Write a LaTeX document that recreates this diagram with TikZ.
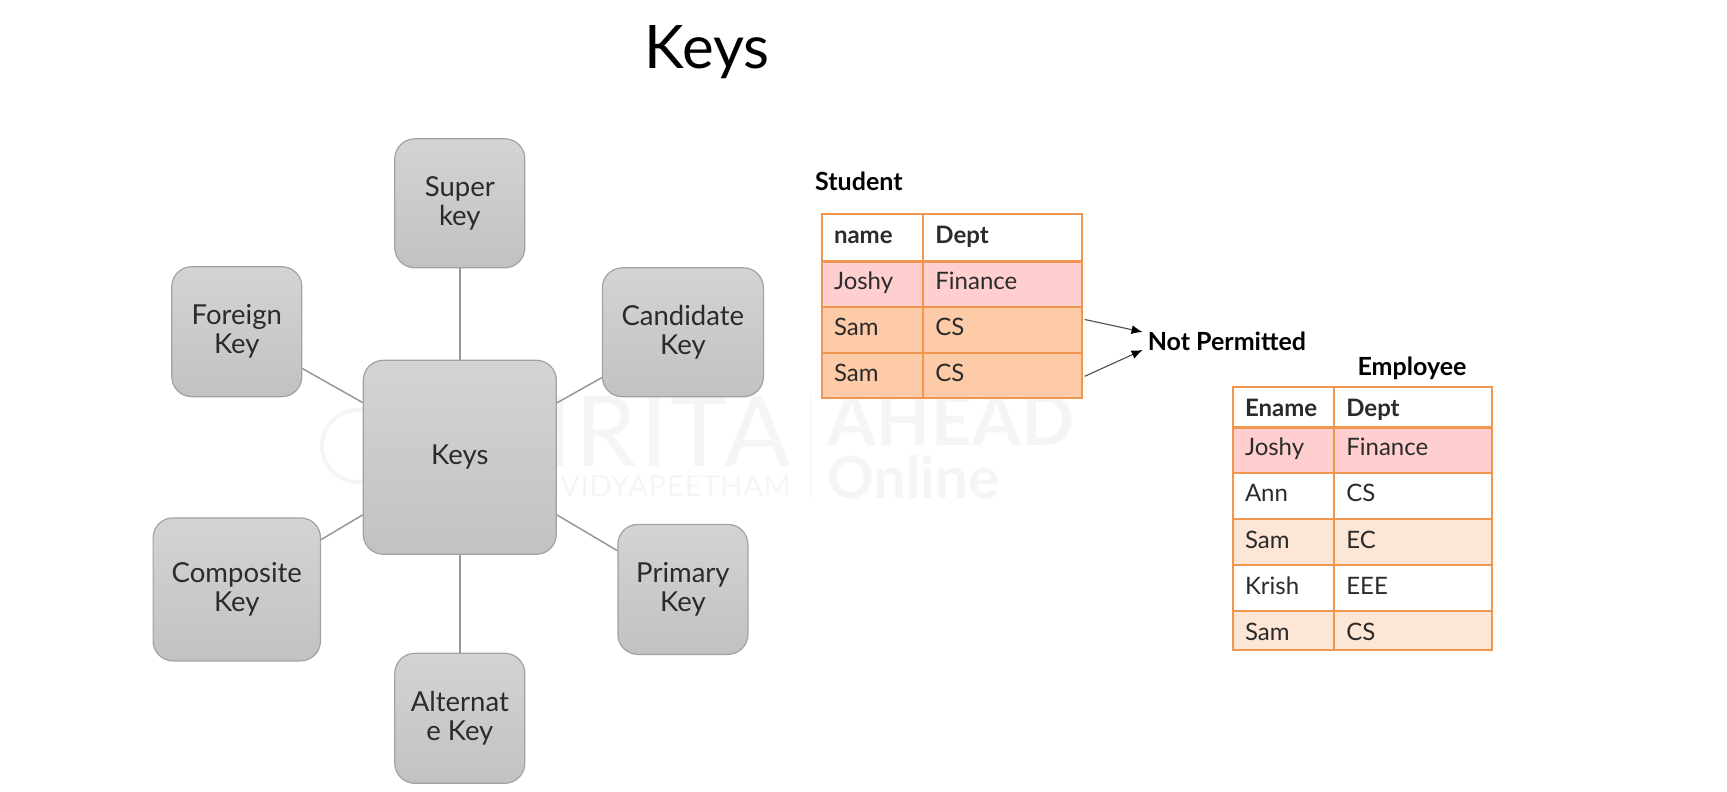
\documentclass[tikz,border=0pt]{standalone}
\usepackage{fontspec}
\setmainfont{Lato}
\usepackage{xcolor}
\usetikzlibrary{positioning,calc}
\usetikzlibrary{arrows.meta}
\definecolor{inkgray}{HTML}{2B2B2B}
\definecolor{boxline}{HTML}{A2A2A2}
\definecolor{linkgray}{HTML}{979797}
\definecolor{tableline}{HTML}{F0964F}
\definecolor{rowred}{HTML}{FFCFCF}
\definecolor{rowpeach}{HTML}{FDCBA8}
\definecolor{rowlight}{HTML}{FDE6D6}
\definecolor{markgray}{HTML}{F5F5F5}
\tikzset{
  keybox/.style={rectangle,draw=boxline,line width=1.2pt,rounded corners=20pt,top color=black!17,bottom color=black!24,
    text=inkgray,align=center,inner sep=0pt,font=\fontsize{27.5}{29}\selectfont},
  cell/.style={rectangle,draw=tableline,line width=2pt,anchor=north west,inner xsep=12pt,inner ysep=0pt,align=left,
    text=inkgray,text height=29pt,font=\fontsize{24}{28}\selectfont},
  caption/.style={text=black,inner sep=0pt,font=\fontsize{25}{28}\selectfont\bfseries},
  watermark/.style={text=markgray,inner sep=0pt,text depth=0pt},
  link/.style={draw=linkgray,line width=1.5pt},
  notearrow/.style={draw=black!70,line width=1.1pt,-{Latex[black,length=11pt,width=9pt]}}
}
\begin{document}
\begin{tikzpicture}[x=1pt,y=-1pt]
    \useasboundingbox (0,0) rectangle (1727,792);
    % faint mark behind the diagram
    \draw[markgray,line width=4pt] (358,446) circle (36);
    \node[watermark,anchor=base east,font=\fontsize{98}{98}\selectfont\addfontfeature{LetterSpace=3}] (amrita) at (791,466) {AMRITA};
    \node[watermark,anchor=base east,font=\fontsize{29}{30}\selectfont\addfontfeature{LetterSpace=3}] (vidya) at (791,496) {VIDYAPEETHAM};
    \draw[markgray,line width=1.5pt] (810.6,394) -- (810.6,501);
    \node[watermark,anchor=base west,font=\fontsize{70}{70}\selectfont\bfseries\addfontfeature{LetterSpace=1}] (ahead) at (827,445) {AHEAD};
    \node[watermark,anchor=base west,font=\fontsize{58}{58}\selectfont\bfseries] (online) at (827,498) {Online};

    \node[text=black,inner sep=0pt,font=\fontsize{60}{66}\selectfont] (title) at (707,52.5) {Keys};

    \node[keybox,minimum width=193pt,minimum height=194pt] (keys) at (459.8,457.3) {Keys};
    \node[keybox,minimum width=130pt,minimum height=129pt] (super) at (459.8,203.3) {Super\\key};
    \node[keybox,minimum width=130pt,minimum height=130pt] (foreign) at (236.8,331.7) {Foreign\\Key};
    \node[keybox,minimum width=161pt,minimum height=129pt] (candidate) at (682.9,332.3) {Candidate\\Key};
    \node[keybox,minimum width=167.4pt,minimum height=143pt] (composite) at (236.8,589.4) {Composite\\Key};
    \node[keybox,minimum width=130pt,minimum height=130pt] (primary) at (682.9,589.4) {Primary\\Key};
    \node[keybox,minimum width=130pt,minimum height=130pt] (alternate) at (459.8,718.3) {Alternat\\e Key};
    \foreach \other in {super,foreign,candidate,composite,primary,alternate}
        \draw[link] (keys) -- (\other);

    \node[caption,anchor=west] (student) at (815,181) {Student};
    \foreach \r/\y/\h/\f/\a/\b in {h/213.2/46.3/white/\textbf{name}/\textbf{Dept},
        1/259.5/46/rowred/Joshy/Finance,
        2/305.5/46/rowpeach/Sam/CS,
        3/351.5/45.6/rowpeach/Sam/CS} {
        \node[cell,fill=\f,minimum width=101.4pt,text width=77.4pt,text depth=\h pt-29pt] (st-\r-a) at (821,\y) {\a};
        \node[cell,fill=\f,minimum width=158.3pt,text width=134.3pt,text depth=\h pt-29pt] (st-\r-b) at (922.4,\y) {\b};
    }
    \draw[tableline,line width=3pt] (st-h-a.south west) -- (st-h-b.south east);

    \node[caption,anchor=west] (notpermitted) at (1147.6,341) {Not Permitted};
    \draw[notearrow] ([shift={(2,-10)}]st-2-b.east) -- ([shift={(-5,-9)}]notpermitted.west);
    \draw[notearrow] ([shift={(2,1)}]st-3-b.east) -- ([shift={(-5,9)}]notpermitted.west);

    \node[caption] (employee) at (1412,368) {Employee};
    \foreach \r/\y/\h/\f/\a/\b in {h/386/39.6/white/\textbf{Ename}/\textbf{Dept},
        1/425.6/46.3/rowred/Joshy/Finance,
        2/471.9/46.3/white/Ann/CS,
        3/518.2/46.2/rowlight/Sam/EC,
        4/564.4/46/white/Krish/EEE,
        5/610.4/38.8/rowlight/Sam/CS} {
        \node[cell,fill=\f,minimum width=101.3pt,text width=77.3pt,text depth=\h pt-29pt] (em-\r-a) at (1232,\y) {\a};
        \node[cell,fill=\f,minimum width=157.5pt,text width=133.5pt,text depth=\h pt-29pt] (em-\r-b) at (1333.3,\y) {\b};
    }
    \draw[tableline,line width=3pt] (em-h-a.south west) -- (em-h-b.south east);
\end{tikzpicture}
\end{document}
